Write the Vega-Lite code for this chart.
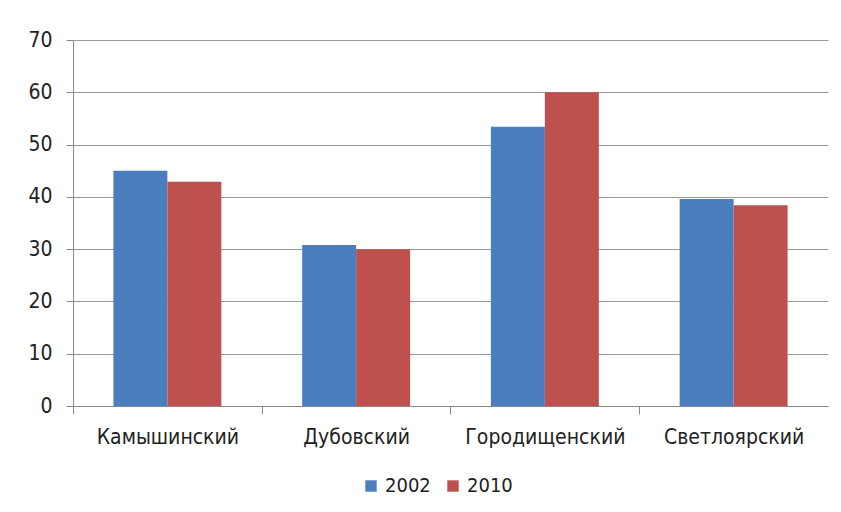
{
  "$schema": "https://vega.github.io/schema/vega-lite/v6.json",
  "width": 755,
  "height": 366,
  "autosize": {"type": "none"},
  "padding": {"left": 73, "top": 40, "right": 13, "bottom": 106},
  "background": "white",
  "data": {"values": [
    {"district": "Камышинский", "year": "2002", "value": 45},
    {"district": "Камышинский", "year": "2010", "value": 42.9},
    {"district": "Дубовский", "year": "2002", "value": 30.8},
    {"district": "Дубовский", "year": "2010", "value": 30},
    {"district": "Городищенский", "year": "2002", "value": 53.4},
    {"district": "Городищенский", "year": "2010", "value": 60},
    {"district": "Светлоярский", "year": "2002", "value": 39.6},
    {"district": "Светлоярский", "year": "2010", "value": 38.4}
  ]},
  "mark": {"type": "bar"},
  "encoding": {
    "x": {
      "field": "district", "type": "nominal", "sort": null,
      "scale": {"paddingInner": 0.428, "paddingOuter": 0.214},
      "axis": {"title": null, "labelAngle": 0, "tickOffset": -94.4, "labelOffset": 94.4, "tickSize": 8, "tickColor": "#888888", "domainColor": "#888888", "labelPadding": 12, "labelFontSize": 21, "labelColor": "#222222", "labelFont": "DejaVu Sans Condensed, sans-serif"}
    },
    "xOffset": {"field": "year", "type": "nominal"},
    "y": {
      "field": "value", "type": "quantitative",
      "scale": {"domain": [0, 70]},
      "axis": {"title": null, "values": [0,10,20,30,40,50,60,70], "tickSize": 7, "tickColor": "#888888", "domainColor": "#888888", "gridColor": "#999999", "labelPadding": 14, "labelFontSize": 21, "labelColor": "#222222", "labelFont": "DejaVu Sans Condensed, sans-serif"}
    },
    "color": {
      "field": "year", "type": "nominal",
      "scale": {"domain": ["2002", "2010"], "range": ["#4A7EBF", "#BE504E"]},
      "legend": {"title": null, "orient": "none", "direction": "horizontal", "legendX": 288, "legendY": 436, "symbolType": "square", "symbolSize": 130, "symbolOpacity": 1, "labelFontSize": 20, "labelColor": "#222222", "labelFont": "DejaVu Sans Condensed, sans-serif", "columnPadding": 12, "labelOffset": 4}
    }
  },
  "config": {"view": {"stroke": null}}
}
